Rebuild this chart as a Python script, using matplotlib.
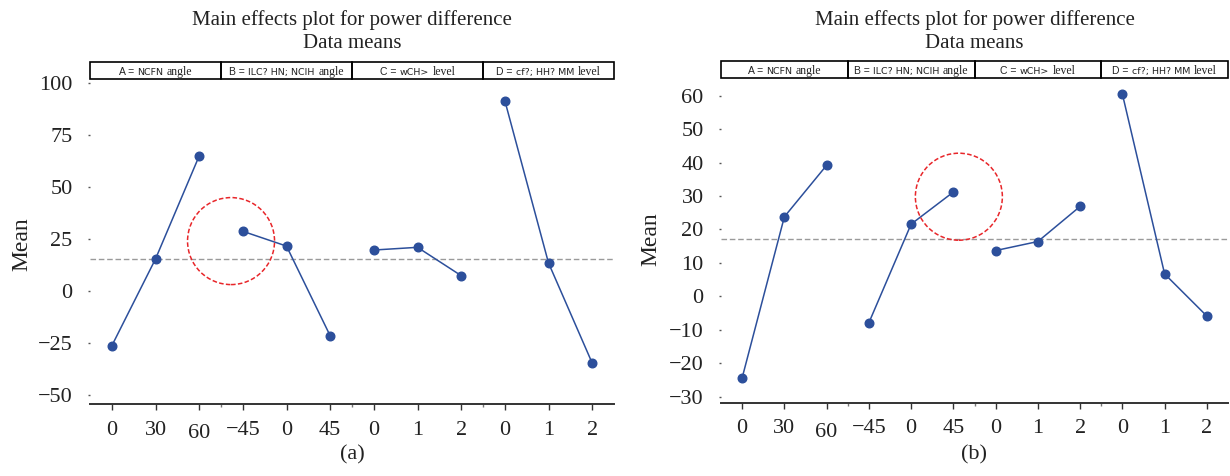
import matplotlib
matplotlib.use("Agg")
import matplotlib.pyplot as plt
from matplotlib.patches import Circle, Rectangle
from matplotlib.offsetbox import TextArea, HPacker, AnnotationBbox
from matplotlib.transforms import ScaledTranslation

# ---------------- data ----------------
factors = ["A", "B", "C", "D"]
level_labels = ["0", "30", "60", "\u221245", "0", "45", "0", "1", "2", "0", "1", "2"]

strip_parts = [
    ("A =", "NCFN", "angle"),
    ("B =", "ILC? HN; NCIH", "angle"),
    ("C =", "wCH>", "level"),
    ("D =", "cf?; HH? MM", "level"),
]

means_a_A = [-26.3, 15.4, 64.9]
means_a_B = [28.7, 21.6, -21.5]
means_a_C = [19.7, 21.0, 7.4]
means_a_D = [91.5, 13.5, -34.6]
grand_a = 15.3

means_b_A = [-24.4, 23.8, 39.2]
means_b_B = [-7.9, 21.6, 31.2]
means_b_C = [13.7, 16.4, 26.9]
means_b_D = [60.5, 6.7, -5.9]
grand_b = 17.3

yticks_a = [-50, -25, 0, 25, 50, 75, 100]
yticks_b = [-30, -20, -10, 0, 10, 20, 30, 40, 50, 60]
ylim_a = (-54.3, 101.9)
ylim_b = (-31.8, 65.3)

circle_a = (3.23, 24.0)   # highlighted region (data coords)
circle_b = (5.63, 29.8)

panel_labels = ["(a)", "(b)"]

# ---------------- style ----------------
W, H, DPI = 1230, 476, 100
BLUE = "#2c4f9b"
RED = "#e8262a"
SERIF = ["Liberation Serif", "DejaVu Serif"]
TXT = "#222222"

fig = plt.figure(figsize=(W / DPI, H / DPI), dpi=DPI)


def px_box(x0, x1, ytop, ybot):
    return [x0 / W, 1 - ybot / H, (x1 - x0) / W, (ybot - ytop) / H]


def draw_panel(x0, x1, ytop_strip, ytop, ybot, series, grand, yticks, ylim,
               circ, plabel, ylabel_xy):
    ax = fig.add_axes(px_box(x0, x1, ytop, ybot))
    for i, vals in enumerate(series):
        xs = [3 * i + 0.5 + k for k in range(len(vals))]
        ax.plot(xs, vals, color=BLUE, lw=1.1, marker="o", ms=6.2,
                mec=BLUE, mfc=BLUE, zorder=3)
    ax.axhline(grand, color="#9a9a9a", lw=1.0, ls=(0, (4, 2)), zorder=1)
    ax.set_xlim(0, 12)
    ax.set_ylim(*ylim)
    ax.set_yticks(yticks)
    ax.set_yticklabels([f"{t}".replace("-", "\u2212") for t in yticks],
                       fontsize=16, family=SERIF, color=TXT)
    ax.set_xticks([0.5 + k for k in range(12)])
    ax.set_xticklabels(level_labels, fontsize=16, family=SERIF, color=TXT)
    ax.set_xticks([3, 6, 9], minor=True)
    for s in ["left", "right", "top"]:
        ax.spines[s].set_visible(False)
    ax.spines["bottom"].set_color("#333333")
    ax.spines["bottom"].set_linewidth(1.4)
    ax.tick_params(axis="y", length=1.5, width=1, color="#555555", pad=11)
    ax.tick_params(axis="x", which="major", length=4, width=1,
                   color="#333333", pad=8)
    ax.tick_params(axis="x", which="minor", length=2, width=1,
                   color="#777777")
    # the "60" label sits a little lower in the original
    lab = ax.get_xticklabels()[2]
    lab.set_transform(lab.get_transform() +
                      ScaledTranslation(0, -2.5 / 72, fig.dpi_scale_trans))

    # red dashed highlight circle (round in pixels)
    trans = fig.dpi_scale_trans + ScaledTranslation(circ[0], circ[1], ax.transData)
    ax.add_patch(Circle((0, 0), 0.435, transform=trans, fill=False,
                        ec=RED, lw=1.1, ls=(0, (3, 1.5)), clip_on=False,
                        zorder=4))

    # strip with factor names
    sax = fig.add_axes(px_box(x0, x1, ytop_strip, ytop))
    sax.set_xlim(0, 4)
    sax.set_ylim(0, 1)
    sax.axis("off")
    for i in range(4):
        sax.add_patch(Rectangle((i, 0), 1, 1, fill=False, ec="black",
                                lw=1.2, clip_on=False))
        p1, p2, p3 = strip_parts[i]
        box = HPacker(children=[
            TextArea(p1, textprops=dict(fontsize=7.5, color=TXT,
                                        family=["Liberation Sans", "DejaVu Sans"])),
            TextArea(p2, textprops=dict(fontsize=6.8, color=TXT,
                                        family=["Liberation Sans Narrow", "DejaVu Sans"])),
            TextArea(p3, textprops=dict(fontsize=8.5, color=TXT, family=SERIF)),
        ], align="baseline", pad=0, sep=2.5)
        ab = AnnotationBbox(box, (i + 0.5, 0.42), xycoords=sax.transData,
                            frameon=False, box_alignment=(0.5, 0.5),
                            pad=0, annotation_clip=False)
        sax.add_artist(ab)

    cx = (x0 + x1) / 2 / W
    fig.text(cx, 1 - 20 / H, "Main effects plot for power difference",
             ha="center", va="center", fontsize=15, family=SERIF, color=TXT)
    fig.text(cx, 1 - 44 / H, "Data means", ha="center", va="center",
             fontsize=15, family=SERIF, color=TXT)
    fig.text(cx, 1 - 455 / H, plabel, ha="center", va="center",
             fontsize=16, family=SERIF, color=TXT)
    fig.text(ylabel_xy[0] / W, 1 - ylabel_xy[1] / H, "Mean", rotation=90,
             ha="center", va="center", fontsize=17, family=SERIF, color=TXT)
    return ax


draw_panel(90, 614, 62, 79, 404,
           [means_a_A, means_a_B, means_a_C, means_a_D], grand_a,
           yticks_a, ylim_a, circle_a, panel_labels[0], (22, 244))
draw_panel(721, 1228, 61, 78, 402.7,
           [means_b_A, means_b_B, means_b_C, means_b_D], grand_b,
           yticks_b, ylim_b, circle_b, panel_labels[1], (651, 239))

fig.savefig("out.png", dpi=DPI)
